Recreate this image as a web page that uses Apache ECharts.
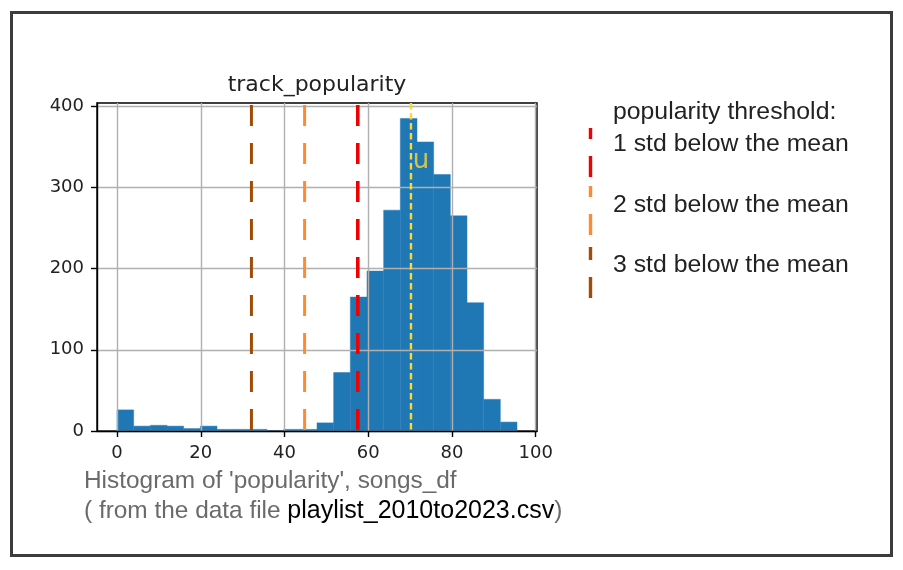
<!DOCTYPE html>
<html>
<head>
<meta charset="utf-8">
<script src="https://cdn.jsdelivr.net/npm/echarts@6/dist/echarts.min.js"></script>
<style>
  html, body { margin: 0; padding: 0; background: #fff; }
  #main { width: 903px; height: 570px; }
</style>
</head>
<body>
<div id="main"></div>
<script>
// histogram bins (edges) and counts of track_popularity
var binEdges = [0, 3.98, 7.96, 11.94, 15.92, 19.9, 23.88, 27.86, 31.84, 35.82, 39.8, 43.78,
    47.76, 51.74, 55.72, 59.7, 63.68, 67.66, 71.64, 75.62, 79.6, 83.58, 87.56, 91.54, 95.52];
var binCounts = [26, 6, 7, 6, 3, 6, 2, 2, 2, 0, 2, 2,
    10, 72, 165, 197, 272, 385, 356, 316, 265, 158, 39, 11];

var meanValue = 70.2;
// 1, 2, 3 std below the mean
var thresholdValues = [57.5, 44.8, 32.1];
var thresholdNames = ['1 std below the mean', '2 std below the mean', '3 std below the mean'];

var xTicks = [0, 20, 40, 60, 80, 100];
var yTicks = [0, 100, 200, 300, 400];
var xMin = -4.78, xMax = 100.3;
var yMax = 404;

var myChart = echarts.init(document.getElementById('main'));

var histData = [];
for (var i = 0; i < binCounts.length; i++) {
    histData.push([binEdges[i], binEdges[i + 1], binCounts[i]]);
}

var lineColors = ['#f00000', '#ff8a30', '#a04b06'];
var lineWidths = [3.6, 3, 3];

function vline(v) {
    return [[v, yMax], [v, 0]];
}

var series = [{
    name: 'track_popularity',
    type: 'custom',
    z: 1,
    data: histData,
    renderItem: function(params, api) {
        var p0 = api.coord([api.value(0), api.value(2)]);
        var p1 = api.coord([api.value(1), 0]);
        return {
            type: 'rect',
            shape: { x: p0[0], y: p0[1], width: p1[0] - p0[0], height: p1[1] - p0[1] },
            style: { fill: '#1f77b4', stroke: '#2a7db8', lineWidth: 0.5 }
        };
    }
}];

thresholdValues.forEach(function(v, i) {
    series.push({
        name: thresholdNames[i],
        type: 'line',
        z: 6,
        symbol: 'none',
        silent: true,
        data: vline(v),
        lineStyle: { color: lineColors[i], width: lineWidths[i], type: [21, 17], dashOffset: -2 }
    });
});

// mean (dotted gold)
series.push({
    name: 'mean',
    type: 'line',
    z: 6,
    symbol: 'none',
    silent: true,
    data: vline(meanValue),
    lineStyle: { color: '#ffd92a', width: 2.4, type: [6.5, 3.5] }
});
series.push({
    name: 'u',
    type: 'scatter',
    z: 7,
    symbolSize: 0,
    data: [[meanValue, 332]],
    label: {
        show: true,
        position: 'inside',
        offset: [10, 0],
        formatter: 'u',
        color: '#ffd92a',
        fontFamily: 'DejaVu Sans',
        fontSize: 26
    }
});

var cap = 'Liberation Sans';
option = {
    backgroundColor: '#fff',
    animation: false,
    grid: {
        left: 97, top: 103, width: 440, height: 328,
        show: true, borderColor: '#000', borderWidth: 1.4, backgroundColor: 'transparent'
    },
    xAxis: {
        type: 'value', min: xMin, max: xMax, z: 3,
        axisLine: { show: true, onZero: false, lineStyle: { color: '#000', width: 1.4 } },
        axisTick: { show: true, length: 6, customValues: xTicks, lineStyle: { color: '#000', width: 1.4 } },
        axisLabel: { customValues: xTicks, margin: 13, color: '#222', fontFamily: 'DejaVu Sans', fontSize: 18 },
        splitLine: { show: true, lineStyle: { color: '#b0b0b0', width: 1.4 } }
    },
    yAxis: {
        type: 'value', min: 0, max: yMax, z: 3,
        axisLine: { show: true, onZero: false, lineStyle: { color: '#000', width: 1.4 } },
        axisTick: { show: true, length: 6, customValues: yTicks, lineStyle: { color: '#000', width: 1.4 } },
        axisLabel: { customValues: yTicks, margin: 13, color: '#222', fontFamily: 'DejaVu Sans', fontSize: 18 },
        splitLine: { show: true, lineStyle: { color: '#b0b0b0', width: 1.4 } }
    },
    graphic: [
        // outer frame
        { type: 'rect', shape: { x: 11.5, y: 12.5, width: 880, height: 543 },
          style: { fill: 'none', stroke: '#3c3c3c', lineWidth: 3 }, z: 10 },
        // title
        { type: 'text', x: 317, y: 85, z: 10,
          style: { text: 'track_popularity', align: 'center', verticalAlign: 'middle',
                   font: '22px "DejaVu Sans"', fill: '#222' } },
        // legend
        { type: 'text', x: 613, y: 112, z: 10,
          style: { text: 'popularity threshold:', verticalAlign: 'middle', font: '24.8px "' + cap + '"', fill: '#222' } },
        { type: 'text', x: 613, y: 144, z: 10,
          style: { text: thresholdNames[0], verticalAlign: 'middle', font: '24.8px "' + cap + '"', fill: '#222' } },
        { type: 'text', x: 613, y: 205, z: 10,
          style: { text: thresholdNames[1], verticalAlign: 'middle', font: '24.8px "' + cap + '"', fill: '#222' } },
        { type: 'text', x: 613, y: 265, z: 10,
          style: { text: thresholdNames[2], verticalAlign: 'middle', font: '24.8px "' + cap + '"', fill: '#222' } },
        { type: 'line', z: 10, shape: { x1: 590.5, y1: 128, x2: 590.5, y2: 178 },
          style: { stroke: lineColors[0], lineWidth: 3.4, lineDash: [21, 17], lineDashOffset: 10 } },
        { type: 'line', z: 10, shape: { x1: 590.5, y1: 186, x2: 590.5, y2: 235 },
          style: { stroke: lineColors[1], lineWidth: 3.4, lineDash: [21, 17], lineDashOffset: 10 } },
        { type: 'line', z: 10, shape: { x1: 590.5, y1: 247, x2: 590.5, y2: 298 },
          style: { stroke: lineColors[2], lineWidth: 3.4, lineDash: [21, 17], lineDashOffset: 8 } },
        // caption
        { type: 'text', x: 84, y: 481, z: 10,
          style: { text: "Histogram of 'popularity', songs_df", verticalAlign: 'middle',
                   font: '24.4px "' + cap + '"', fill: '#6a6a6a' } },
        { type: 'text', x: 84, y: 511, z: 10,
          style: { text: '( from the data file {b|playlist_2010to2023.csv})', verticalAlign: 'middle',
                   font: '24.4px "' + cap + '"', fill: '#6a6a6a',
                   rich: { b: { fill: '#000', font: '25px "' + cap + '"' } } } }
    ],
    series: series
};

myChart.setOption(option);
</script>
</body>
</html>
